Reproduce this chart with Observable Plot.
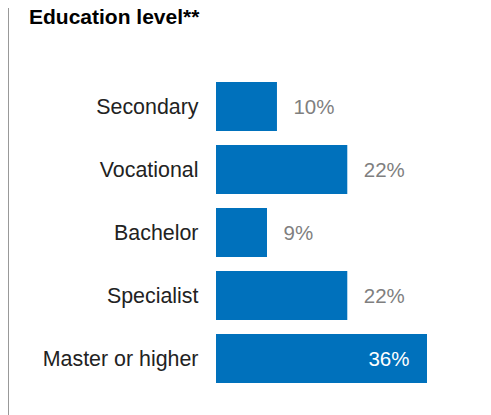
<!DOCTYPE html>
<html><head><meta charset="utf-8">
<script src="https://cdn.jsdelivr.net/npm/d3@7"></script>
<script src="https://cdn.jsdelivr.net/npm/@observablehq/plot@0.6"></script>
<style>
body{margin:0;background:#fff;}
#wrap{position:relative;width:491px;height:415px;font-family:"Liberation Sans",Arial,sans-serif;overflow:hidden;}
#vline{position:absolute;left:8px;top:8px;bottom:0;width:1px;background:#999;}
#title{position:absolute;left:29px;top:5px;font-size:21px;line-height:24px;font-weight:bold;color:#000;white-space:nowrap;}
#chart{position:absolute;left:0;top:30px;}
</style></head><body>
<div id="wrap"><div id="vline"></div><div id="title">Education level**</div><div id="chart"></div></div>
<script>
const categories = ["Secondary", "Vocational", "Bachelor", "Specialist", "Master or higher"];
const values = [10.4, 22.4, 8.7, 22.4, 36];
const labels = ["10%", "22%", "9%", "22%", "36%"];

const data = categories.map((c, i) => ({category: c, value: values[i], label: labels[i]}));
const isInside = d => d.value >= 30;

const plot = Plot.plot({
  width: 491,
  height: 385,
  marginLeft: 216,
  marginRight: 64,
  marginTop: 43.1,
  marginBottom: 23.1,
  style: {fontFamily: '"Liberation Sans", Arial, sans-serif', fontSize: "20px", background: "transparent"},
  x: {domain: [0, 36], axis: null},
  y: {domain: categories, paddingInner: 0.216, paddingOuter: 0.108, label: null, axis: null},
  marks: [
    Plot.barX(data, {x: "value", y: "category", fill: "#0071bc"}),
    Plot.text(data.filter(d => !isInside(d)), {x: "value", y: "category", text: "label", textAnchor: "start", dx: 16, fill: "#7f7f7f", fontSize: 20.5}),
    Plot.text(data.filter(isInside), {x: "value", y: "category", text: "label", textAnchor: "end", dx: -18, fill: "#ffffff", fontSize: 20.5}),
    Plot.axisY({tickSize: 0, tickPadding: 18, fontSize: 21.4, color: "#222", label: null})
  ]
});
document.getElementById("chart").appendChild(plot);
</script>
</body></html>
